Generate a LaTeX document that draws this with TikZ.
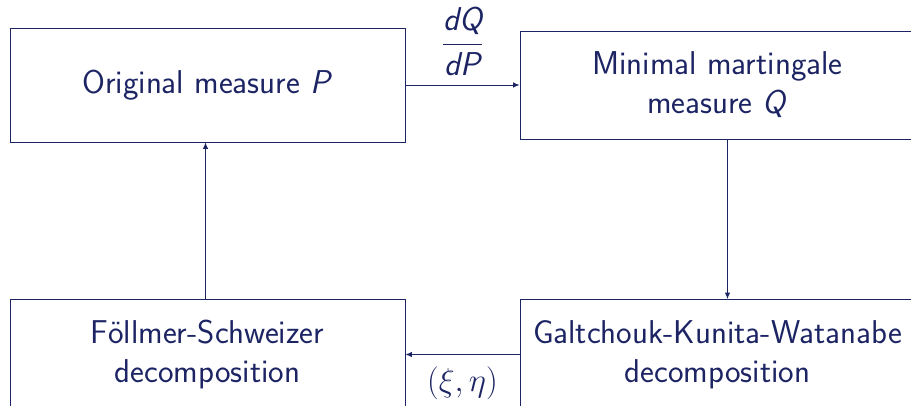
\RequirePackage{fix-cm}
\documentclass[tikz,border=0pt]{standalone}
\usepackage{amsmath}
\usepackage{fontspec}
\usetikzlibrary{arrows.meta,calc}
\definecolor{navy}{RGB}{28,36,100}
\begin{document}
\begin{tikzpicture}[x=1bp,y=-1bp,
  box/.style={draw=navy, line width=0.9bp, align=center, inner sep=0pt,
    minimum width=395bp, text=navy,
    font=\sffamily\fontsize{33bp}{39bp}\selectfont},
  conn/.style={draw=navy, line width=0.9bp, -{Latex[length=6.5bp,width=5.5bp]}},
  lbl/.style={text=navy, font=\sffamily\fontsize{33bp}{39bp}\selectfont, inner sep=0pt}]
\useasboundingbox (0,0) rectangle (911,405);
\clip (0,0) rectangle (911,405);
\node[box, minimum height=114bp] (tl) at (207.5,85) {\raisebox{-3bp}{Original measure \textit{P}}};
\node[box, minimum height=108bp] (tr) at (717.5,85) {Minimal martingale\\measure \textit{Q}};
\node[box, minimum height=110bp] (bl) at (207.5,354.5) {Föllmer-Schweizer\\decomposition};
\node[box, minimum height=110bp] (br) at (717.5,354.5) {Galtchouk-Kunita-Watanabe\\decomposition};
\draw[conn] (tl) -- node[lbl, above=9bp] (fq) {$\displaystyle\frac{\textit{dQ}}{\textit{dP}}$} (tr);
\draw[conn] ($(tr.south)+(10,0)$) -- ($(br.north)+(10,0)$);
\draw[conn] (br) -- node[lbl, below=12bp] (xe) {$(\xi,\eta)$} (bl);
\draw[conn] ($(bl.north)+(-2,0)$) -- ($(tl.south)+(-2,0)$);
\end{tikzpicture}
\end{document}
